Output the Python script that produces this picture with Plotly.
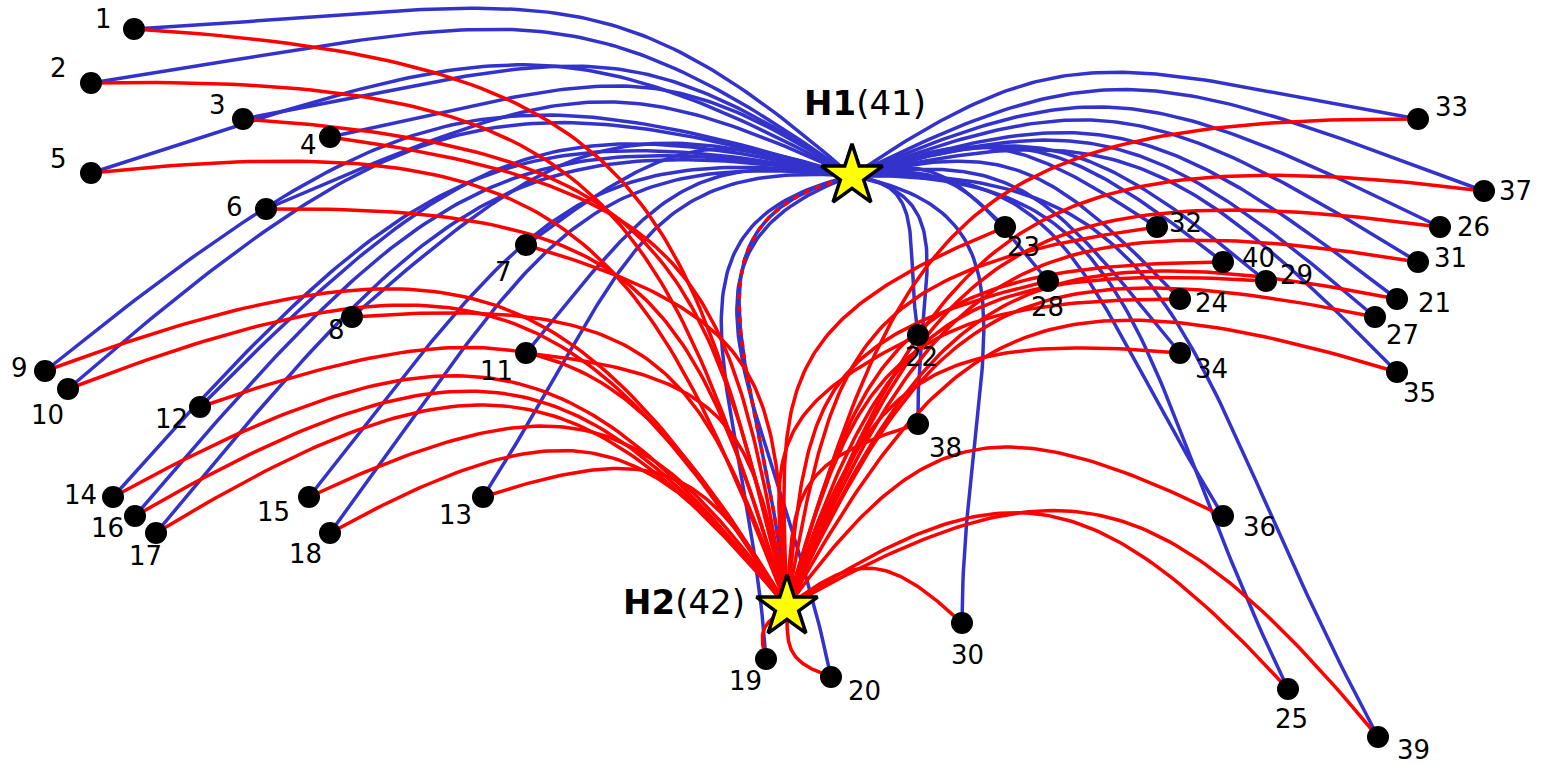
import numpy as np
import plotly.graph_objects as go

# ---------------- data ----------------
NODE_IDS = list(range(1, 41))
NODE_X = [134, 91, 243, 330, 91, 266, 526, 352, 45, 68,
          526, 200, 483, 113, 309, 135, 156, 330, 766, 831,
          1397, 918, 1005, 1180, 1288, 1440, 1375, 1048, 1266, 962,
          1418, 1157, 1418, 1180, 1397, 1223, 1484, 918, 1378, 1223]
NODE_Y = [29, 83, 119, 137, 173, 209, 245, 317, 371, 389,
          353, 407, 497, 497, 497, 516, 533, 533, 659, 677,
          299, 335, 227, 299, 689, 227, 317, 281, 281, 623,
          262, 227, 119, 353, 372, 516, 191, 424, 737, 262]
HUB_NAMES = ["H1", "H2"]
HUB_IDS = [41, 42]
HUB_X = [852, 787]
HUB_Y = [176, 607]

BLUE_EDGES = [(n, 41) for n in NODE_IDS]   # every node linked to H1
RED_EDGES = [(n, 42) for n in NODE_IDS]    # every node linked to H2
HUB_EDGE = (42, 41)                        # H1 - H2 link (dashed red/blue)

# ---------------- styles ----------------
BLUE = "#3333cc"
RED = "#ff0000"
LW = 3.5
FONT = "DejaVu Sans"
# label offsets in pixels (dx right, dy down) relative to node
LABEL_OFFSETS = [(-31, -10), (-33, -15), (-26, -14), (-22, 8), (-33, -14), (-32, -2), (-23, 27), (-16, 13), (-26, -3), (-21, 26),
                 (-30, 18), (-29, 12), (-28, 18), (-33, -2), (-36, 15), (-28, 12), (-11, 23), (-25, 21), (-21, 22), (33, 14),
                 (37, 4), (3, 22), (18, 20), (31, 4), (3, 30), (33, 0), (27, 18), (-1, 26), (30, -6), (5, 32),
                 (32, -4), (28, -4), (33, -12), (31, 16), (22, 21), (36, 11), (31, 0), (27, 24), (35, 13), (35, -4)]

pos = {i: (x, y) for i, x, y in zip(NODE_IDS, NODE_X, NODE_Y)}
for i, x, y in zip(HUB_IDS, HUB_X, HUB_Y):
    pos[i] = (x, y)


def curve(a, b, th_s_fn, th_e_fn, ks, ke, n=90):
    x0, y0 = pos[a]
    x1, y1 = pos[b]
    X0, Y0, X1, Y1 = x0, -y0, x1, -y1
    dx, dy = X1 - X0, Y1 - Y0
    L = np.hypot(dx, dy)
    c = np.arctan2(dy, dx)
    side = -1 if x0 < HUB_X[0] else 1
    elev = np.degrees(c) if side < 0 else 180 - np.degrees(c)
    if elev > 180:
        elev -= 360
    th_s = th_s_fn(elev)
    th_e = th_e_fn(elev)
    a_s = c - side * np.radians(th_s)
    a_e = c + side * np.radians(th_e)
    P0 = np.array([X0, Y0])
    P3 = np.array([X1, Y1])
    P1 = P0 + ks * L * np.array([np.cos(a_s), np.sin(a_s)])
    P2 = P3 - ke * L * np.array([np.cos(a_e), np.sin(a_e)])
    t = np.linspace(0, 1, n)[:, None]
    B = (1 - t) ** 3 * P0 + 3 * (1 - t) ** 2 * t * P1 + 3 * (1 - t) * t ** 2 * P2 + t ** 3 * P3
    return list(B[:, 0]), list(-B[:, 1])


blue_ts = lambda e: 14 + 12 * np.exp(-((e - 18) / 18) ** 2)
blue_te = lambda e: 28 + 40 * np.sin(np.radians(e)) ** 2
red_ts = lambda e: 38
red_te = lambda e: 45 - 15 * abs(np.sin(np.radians(e)))

fig = go.Figure()

bx, by = [], []
for a, b in BLUE_EDGES:
    x, y = curve(a, b, blue_ts, blue_te, 0.55, 0.45)
    bx += x + [None]
    by += y + [None]
fig.add_trace(go.Scatter(x=bx, y=by, mode="lines", line=dict(color=BLUE, width=LW), hoverinfo="skip"))

hx, hy = curve(HUB_EDGE[0], HUB_EDGE[1], blue_ts, blue_te, 0.55, 0.45)
fig.add_trace(go.Scatter(x=hx, y=hy, mode="lines", line=dict(color=BLUE, width=LW), hoverinfo="skip"))
fig.add_trace(go.Scatter(x=hx, y=hy, mode="lines", line=dict(color=RED, width=LW, dash="6px,6px"), hoverinfo="skip"))

rx, ry = [], []
for a, b in RED_EDGES:
    x, y = curve(a, b, red_ts, red_te, 0.58, 0.5)
    rx += x + [None]
    ry += y + [None]
fig.add_trace(go.Scatter(x=rx, y=ry, mode="lines", line=dict(color=RED, width=LW), hoverinfo="skip"))

fig.add_trace(go.Scatter(x=NODE_X, y=NODE_Y, mode="markers",
                         marker=dict(size=22, color="black", line=dict(width=0)), hoverinfo="skip"))
fig.add_trace(go.Scatter(x=HUB_X, y=HUB_Y, mode="markers",
                         marker=dict(symbol="star", size=46, color="#ffff00", line=dict(color="black", width=3.5)),
                         hoverinfo="skip"))

annotations = []
for i, x, y, (ox, oy) in zip(NODE_IDS, NODE_X, NODE_Y, LABEL_OFFSETS):
    annotations.append(dict(x=x, y=y, text=str(i), showarrow=False, xshift=ox, yshift=-oy,
                            font=dict(family=FONT, size=26, color="black"), xanchor="center", yanchor="middle"))
annotations.append(dict(x=HUB_X[0], y=HUB_Y[0], text="<b>H1</b>(41)", showarrow=False, xshift=13, yshift=73,
                        font=dict(family=FONT, size=34, color="black"), xanchor="center", yanchor="middle"))
annotations.append(dict(x=HUB_X[1], y=HUB_Y[1], text="<b>H2</b>(42)", showarrow=False, xshift=-40, yshift=5,
                        font=dict(family=FONT, size=34, color="black"), xanchor="right", yanchor="middle"))

fig.update_layout(
    width=1542, height=765,
    margin=dict(l=0, r=0, t=0, b=0),
    paper_bgcolor="white", plot_bgcolor="white",
    showlegend=False,
    xaxis=dict(range=[0, 1542], visible=False, fixedrange=True),
    yaxis=dict(range=[765, 0], visible=False, fixedrange=True),
    annotations=annotations,
)

fig.write_html("out.html", config={"displayModeBar": False},
               post_script="document.body.style.margin='0';document.body.style.overflow='hidden';")
